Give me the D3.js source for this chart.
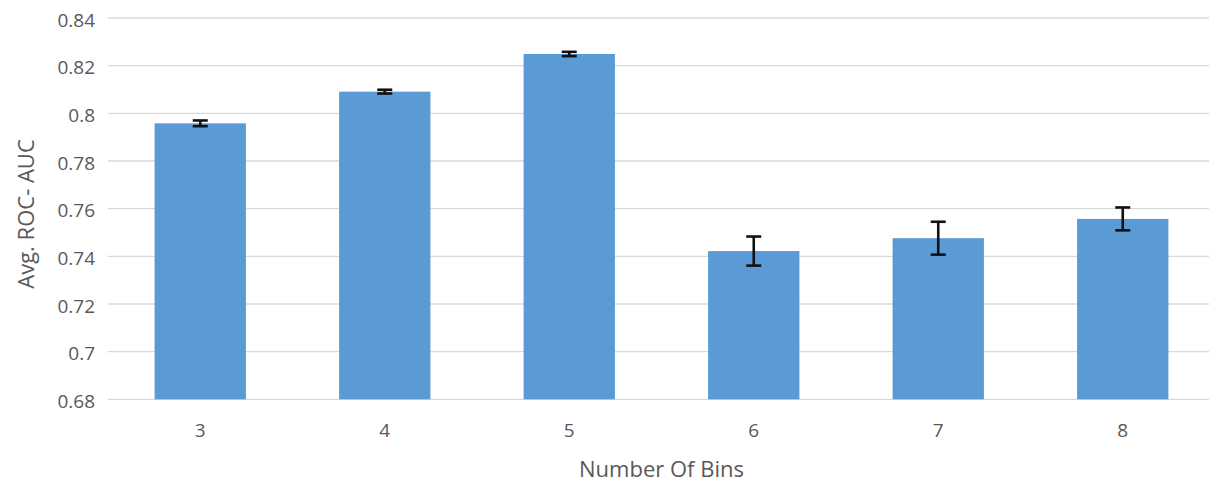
<!DOCTYPE html>
<html>
<head>
<meta charset="utf-8">
<script src="https://cdn.jsdelivr.net/npm/d3@7"></script>
<style>
  html, body { margin: 0; padding: 0; background: #fff; }
  svg { display: block; }
  text { font-family: "Open Sans", "Noto Sans", sans-serif; fill: #595959; }
</style>
</head>
<body>
<svg id="chart" width="1209" height="482"></svg>
<script>
// Average ROC-AUC by number of bins, with error bars
const bins = ["3", "4", "5", "6", "7", "8"];
const aucMean = [0.7958, 0.8091, 0.8249, 0.7422, 0.7476, 0.7557];
const aucErr = [0.0012, 0.0008, 0.0009, 0.0061, 0.0069, 0.0048];
const yTicks = [0.68, 0.70, 0.72, 0.74, 0.76, 0.78, 0.80, 0.82, 0.84];

const svg = d3.select("#chart");
const plot = { left: 108, right: 1215, top: 18, bottom: 399.3 };

const x = d3.scaleBand()
  .domain(bins)
  .range([plot.left, plot.right])
  .paddingInner(0.505)
  .paddingOuter(0.2525);

const y = d3.scaleLinear()
  .domain([0.68, 0.84])
  .range([plot.bottom, plot.top]);

// horizontal gridlines
svg.append("g")
  .selectAll("line")
  .data(yTicks)
  .join("line")
  .attr("x1", plot.left)
  .attr("x2", plot.right)
  .attr("y1", d => y(d))
  .attr("y2", d => y(d))
  .attr("stroke", "#d9d9d9")
  .attr("stroke-width", 1.3);

// y tick labels
const fmt = d => d3.format(".2f")(d).replace(/0+$/, "").replace(/\.$/, "");
svg.append("g")
  .selectAll("text")
  .data(yTicks)
  .join("text")
  .attr("x", 95)
  .attr("y", d => y(d))
  .attr("dy", "0.46em")
  .attr("text-anchor", "end")
  .attr("font-size", 19)
  .text(fmt);

// bars
svg.append("g")
  .selectAll("rect")
  .data(bins)
  .join("rect")
  .attr("x", d => x(d))
  .attr("width", x.bandwidth())
  .attr("y", (d, i) => y(aucMean[i]))
  .attr("height", (d, i) => y(0.68) - y(aucMean[i]))
  .attr("fill", "#5b9bd5");

// error bars
const capHalf = 7.5;
const eb = svg.append("g")
  .attr("stroke", "#111")
  .attr("stroke-width", 2.6)
  .attr("fill", "none");
bins.forEach((b, i) => {
  const cx = x(b) + x.bandwidth() / 2;
  const yHi = y(aucMean[i] + aucErr[i]);
  const yLo = y(aucMean[i] - aucErr[i]);
  eb.append("line").attr("x1", cx).attr("x2", cx).attr("y1", yHi).attr("y2", yLo);
  eb.append("line").attr("x1", cx - capHalf).attr("x2", cx + capHalf).attr("y1", yHi).attr("y2", yHi);
  eb.append("line").attr("x1", cx - capHalf).attr("x2", cx + capHalf).attr("y1", yLo).attr("y2", yLo);
});

// x tick labels
svg.append("g")
  .selectAll("text")
  .data(bins)
  .join("text")
  .attr("x", d => x(d) + x.bandwidth() / 2)
  .attr("y", 430)
  .attr("dy", "0.35em")
  .attr("text-anchor", "middle")
  .attr("font-size", 19)
  .text(d => d);

// axis titles
svg.append("text")
  .attr("x", (plot.left + plot.right) / 2)
  .attr("y", 469)
  .attr("dy", "0.35em")
  .attr("text-anchor", "middle")
  .attr("font-size", 22)
  .text("Number Of Bins");

svg.append("text")
  .attr("transform", `translate(26,214) rotate(-90)`)
  .attr("dy", "0.35em")
  .attr("text-anchor", "middle")
  .attr("font-size", 22)
  .text("Avg. ROC- AUC");
</script>
</body>
</html>
